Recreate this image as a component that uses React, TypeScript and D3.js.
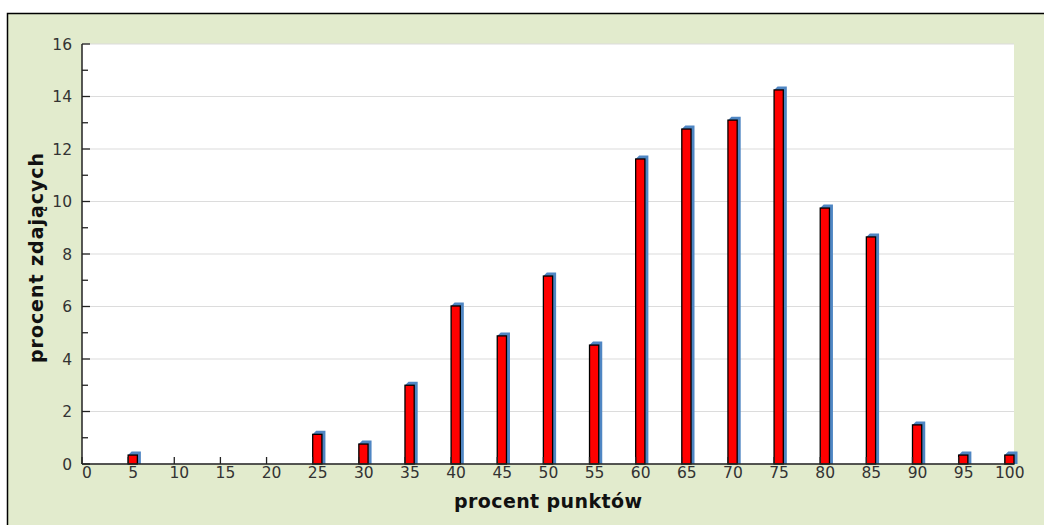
import React from "react";
import * as d3 from "d3";

const categories: number[] = [5, 10, 15, 20, 25, 30, 35, 40, 45, 50, 55, 60, 65, 70, 75, 80, 85, 90, 95, 100];
const values: number[] = [0.34, 0, 0, 0, 1.13, 0.76, 3.0, 6.02, 4.88, 7.16, 4.53, 11.62, 12.76, 13.1, 14.25, 9.75, 8.65, 1.49, 0.34, 0.34];
const xTicks: number[] = [0, 5, 10, 15, 20, 25, 30, 35, 40, 45, 50, 55, 60, 65, 70, 75, 80, 85, 90, 95, 100];
const yMajorTicks: number[] = [0, 2, 4, 6, 8, 10, 12, 14, 16];
const yMinorTicks: number[] = [1, 3, 5, 7, 9, 11, 13, 15];
const xTitle = "procent punktów";
const yTitle = "procent zdających";

const W = 1044;
const H = 525;
const left = 82;
const right = 1014;
const top = 44;
const bottom = 464;

export default function App() {
  const x = d3.scaleLinear().domain([0, 101]).range([left, right]);
  const y = d3.scaleLinear().domain([0, 16]).range([bottom, top]);
  const d = 3.5;
  const font = "'DejaVu Sans', sans-serif";

  return (
    <svg width={W} height={H} style={{ position: "absolute", left: 0, top: 0 }} xmlns="http://www.w3.org/2000/svg">
      <rect x={0} y={0} width={W} height={H} fill="#ffffff" />
      <rect x={7.5} y={13.5} width={W + 10} height={H + 10} fill="#e2ebcd" stroke="#000" strokeWidth={1.5} />
      <rect x={left} y={top} width={right - left} height={bottom - top} fill="#ffffff" />
      {yMajorTicks.map((t) => (
        <line key={"g" + t} x1={left} x2={right} y1={y(t)} y2={y(t)} stroke="#dcdcdc" strokeWidth={1.2} />
      ))}
      {categories.map((c, i) =>
        values[i] > 0 ? (
          <g key={"b" + c}>
            <polygon
              points={[
                [x(c), y(values[i])],
                [x(c) + d, y(values[i]) - d],
                [x(c + 1) + d, y(values[i]) - d],
                [x(c + 1) + d, bottom],
                [x(c + 1), bottom],
              ]
                .map((p) => p.join(","))
                .join(" ")}
              fill="#4f86c3"
            />
            <rect
              x={x(c)}
              y={y(values[i])}
              width={x(c + 1) - x(c)}
              height={bottom - y(values[i])}
              fill="#ff0000"
              stroke="#000"
              strokeWidth={1.3}
            />
          </g>
        ) : null
      )}
      <line x1={left} x2={left} y1={top} y2={bottom} stroke="#222" strokeWidth={1.5} />
      <line x1={left} x2={right} y1={bottom} y2={bottom} stroke="#222" strokeWidth={1.5} />
      {yMajorTicks.map((t) => (
        <g key={"ym" + t}>
          <line x1={left} x2={left + 8} y1={y(t)} y2={y(t)} stroke="#222" strokeWidth={1.3} />
          <text x={72} y={y(t) + 5.6} textAnchor="end" fontFamily={font} fontSize={15.5} fill="#333">
            {t}
          </text>
        </g>
      ))}
      {yMinorTicks.map((t) => (
        <line key={"yn" + t} x1={left} x2={left + 6} y1={y(t)} y2={y(t)} stroke="#222" strokeWidth={1.3} />
      ))}
      {xTicks.map((t) => (
        <g key={"x" + t}>
          <line x1={x(t)} x2={x(t)} y1={bottom} y2={bottom - 7} stroke="#222" strokeWidth={1.3} />
          <text x={x(t) + 5} y={477.5} textAnchor="middle" fontFamily={font} fontSize={15.5} fill="#333">
            {t}
          </text>
        </g>
      ))}
      <text
        x={(left + right) / 2}
        y={508}
        textAnchor="middle"
        fontFamily={font}
        fontWeight="bold"
        fontSize={19}
        fill="#111"
        textLength={188}
        lengthAdjust="spacing"
      >
        {xTitle}
      </text>
      <text
        transform={`translate(43, ${(top + bottom) / 2 + 4}) rotate(-90)`}
        textAnchor="middle"
        fontFamily={font}
        fontWeight="bold"
        fontSize={19}
        fill="#111"
        textLength={210}
        lengthAdjust="spacing"
      >
        {yTitle}
      </text>
    </svg>
  );
}
